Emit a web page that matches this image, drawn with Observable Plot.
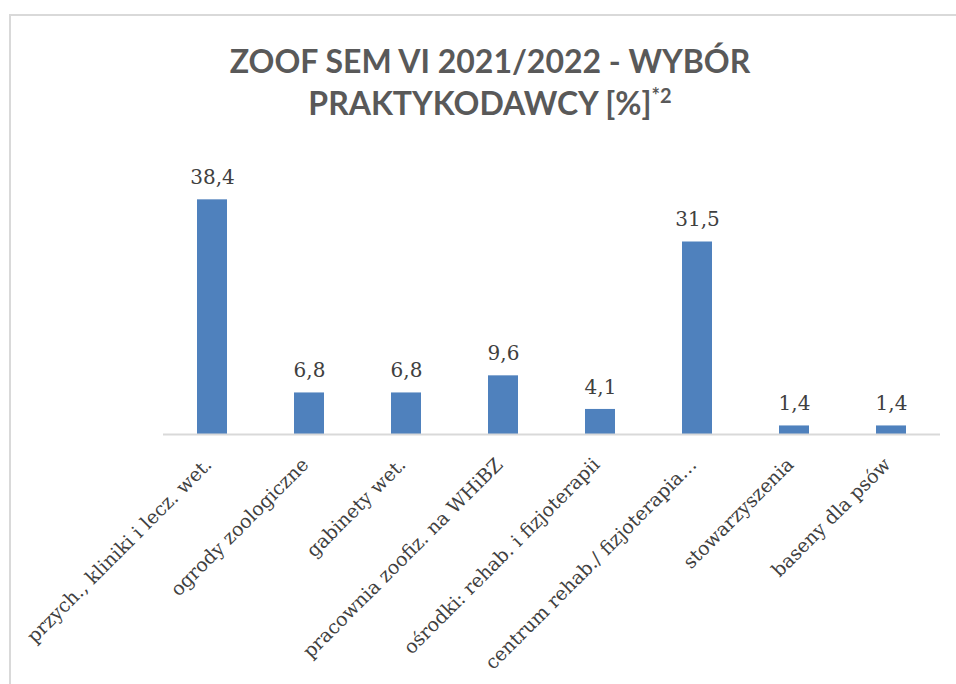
<!DOCTYPE html>
<html>
<head>
<meta charset="utf-8">
<script src="https://cdn.jsdelivr.net/npm/d3@7"></script>
<script src="https://cdn.jsdelivr.net/npm/@observablehq/plot@0.6"></script>
<style>
  html, body { margin: 0; padding: 0; background: #fff; }
  #wrap { position: relative; width: 956px; height: 684px; overflow: hidden; }
  #frame { position: absolute; left: 9px; top: 14px; width: 980px; height: 720px; border: 2px solid #d9d9d9; box-sizing: border-box; }
  #title { position: absolute; left: 140px; width: 700px; top: 40px; text-align: center; font-family: Lato, "Open Sans", sans-serif; font-weight: 700; font-size: 32px; line-height: 42px; color: #595959; }
  #title sup { font-size: 20px; vertical-align: 12px; line-height: 0; }
  #chart { position: absolute; left: 0; top: 140px; }
</style>
</head>
<body>
<div id="wrap">
  <div id="frame"></div>
  <div id="title">ZOOF SEM VI 2021/2022 - WYBÓR<br>PRAKTYKODAWCY [%]<sup>*2</sup></div>
  <div id="chart"></div>
</div>
<script>
const categories = [
  "przych., kliniki i lecz. wet.",
  "ogrody zoologiczne",
  "gabinety wet.",
  "pracownia zoofiz. na WHiBZ",
  "ośrodki: rehab. i fizjoterapii",
  "centrum rehab./ fizjoterapia…",
  "stowarzyszenia",
  "baseny dla psów"
];
const values = [38.4, 6.8, 6.8, 9.6, 4.1, 31.5, 1.4, 1.4];

const data = categories.map((c, i) => ({category: c, value: values[i]}));
const fmt = v => v.toFixed(1).replace(".", ",");

const chart = Plot.plot({
  width: 956,
  height: 544,
  marginTop: 19,
  marginBottom: 250,
  marginLeft: 163,
  marginRight: 16,
  x: {domain: categories, paddingInner: 0.69, paddingOuter: 0.345, label: null},
  y: {domain: [0, 45], axis: null},
  style: {fontFamily: "'DejaVu Serif', serif", color: "#404040", background: "transparent"},
  marks: [
    Plot.barY(data, {x: "category", y: "value", fill: "#4f81bd"}),
    Plot.ruleY([0], {stroke: "#d9d9d9", strokeWidth: 2}),
    Plot.text(data, {x: "category", y: "value", text: d => fmt(d.value), dy: -22, fontSize: 20, fill: "#404040"}),
    Plot.axisX({tickSize: 0, tickPadding: 27, tickRotate: -45, dx: -4, fontSize: 19, fill: "#404040", label: null})
  ]
});
document.getElementById("chart").appendChild(chart);
</script>
</body>
</html>
